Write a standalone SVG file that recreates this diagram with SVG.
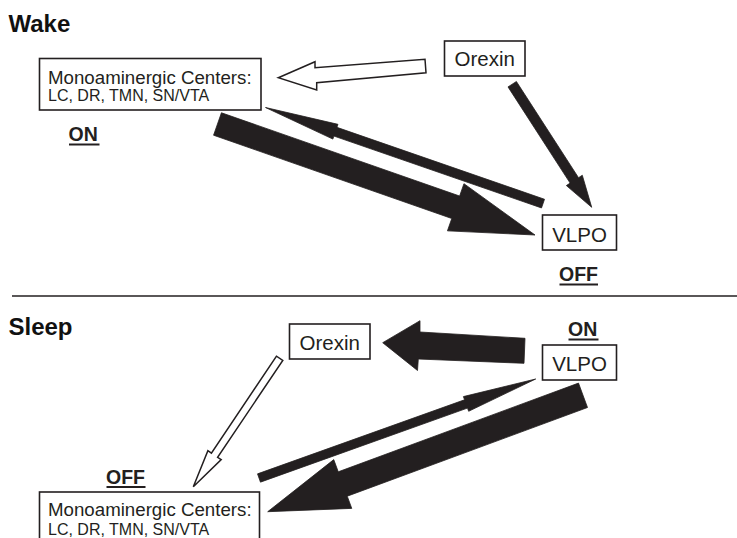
<svg xmlns="http://www.w3.org/2000/svg" width="737" height="538" viewBox="0 0 737 538">
<style>
.box{fill:#fff;stroke:#231f20;stroke-width:1.6}
.t{font-family:"Liberation Sans",Arial,sans-serif;fill:#231f20}
.h{font-family:"Liberation Sans",Arial,sans-serif;font-weight:bold;font-size:24px;fill:#111}
.st{font-family:"Liberation Sans",Arial,sans-serif;font-weight:bold;font-size:19.5px;fill:#231f20}
.ul{stroke:#231f20;stroke-width:2}
.solid{fill:#231f20;stroke:#231f20;stroke-width:0.8;stroke-linejoin:miter}
.open{fill:#fff;stroke:#231f20;stroke-width:1.5;stroke-linejoin:miter}
</style>
<rect width="737" height="538" fill="#fff"/>

<g id="titles">
<text class="h" x="8.5" y="31.5">Wake</text>
<text class="h" x="8.5" y="335">Sleep</text>
<line x1="12" y1="296" x2="737" y2="296" stroke="#231f20" stroke-width="1.6"/>
</g>

<g id="connectors">
<polygon class="open" points="278.3,77.7 315,61.7 315,67.7 425,59.3 426,72.7 316.7,82.7 316.7,90"/>
<polygon class="solid" points="221.43,112.77 459.63,196.04 463.95,183.67 535,235 447.45,230.87 451.77,218.5 213.57,135.23"/>
<polygon class="solid" points="544.5,199.25 336.93,127.36 337.97,124.34 265.5,107.5 332.87,139.08 333.91,136.06 541.5,207.95"/>
<polygon class="solid" points="516.4,81.49 578.53,177.7 582.31,175.25 591.7,207.3 566.35,185.57 570.13,183.12 508.0,86.91"/>
<polygon class="solid" points="382.7,342.7 420,320.7 420,332 525,338.3 524,363.3 418.3,359 417.5,370.5"/>
<polygon class="solid" points="257.52,473.86 464.55,399.79 463.4,396.59 535.7,379 468.66,411.27 467.51,408.07 260.48,482.14"/>
<polygon class="solid" points="578.5,383.1 338.25,471.8 333.75,459.61 267.7,511.7 351.75,508.39 347.25,496.2 587.5,407.5"/>
<polygon class="open" points="276.5,356.2 211.4,453.1 207.9,450.7 193.3,486.7 221.2,459.6 217.6,457.3 282.8,360.4"/>
</g>

<g id="wake-mono">
<rect class="box" x="39.5" y="58.5" width="221.5" height="51.5"/>
<text class="t" x="48" y="84" font-size="18.7">Monoaminergic Centers:</text>
<text class="t" x="48" y="100.7" font-size="16">LC, DR, TMN, SN/VTA</text>
</g>
<g id="wake-mono-state">
<text class="st" x="68.5" y="141">ON</text>
<line class="ul" x1="69" y1="144.5" x2="99.5" y2="144.5"/>
</g>
<g id="wake-orexin">
<rect class="box" x="444.5" y="41" width="80.5" height="35"/>
<text class="t" x="484.7" y="66" font-size="20.5" text-anchor="middle">Orexin</text>
</g>
<g id="wake-vlpo">
<rect class="box" x="542.5" y="215" width="74" height="35"/>
<text class="t" x="579.5" y="241.5" font-size="20.5" text-anchor="middle">VLPO</text>
</g>
<g id="wake-vlpo-state">
<text class="st" x="559" y="281">OFF</text>
<line class="ul" x1="559.5" y1="284.5" x2="598" y2="284.5"/>
</g>

<g id="sleep-orexin">
<rect class="box" x="289.5" y="324" width="80.5" height="35"/>
<text class="t" x="329.7" y="350" font-size="20.5" text-anchor="middle">Orexin</text>
</g>
<g id="sleep-vlpo-state">
<text class="st" x="568" y="336">ON</text>
<line class="ul" x1="568.5" y1="339.5" x2="598.5" y2="339.5"/>
</g>
<g id="sleep-vlpo">
<rect class="box" x="542.5" y="345" width="74" height="35"/>
<text class="t" x="579.5" y="370.5" font-size="20.5" text-anchor="middle">VLPO</text>
</g>
<g id="sleep-mono-state">
<text class="st" x="106" y="483.5">OFF</text>
<line class="ul" x1="106.5" y1="487" x2="145.5" y2="487"/>
</g>
<g id="sleep-mono">
<rect class="box" x="39.5" y="492" width="220" height="54"/>
<text class="t" x="48" y="515.5" font-size="18.7">Monoaminergic Centers:</text>
<text class="t" x="48" y="535" font-size="16">LC, DR, TMN, SN/VTA</text>
</g>
</svg>
